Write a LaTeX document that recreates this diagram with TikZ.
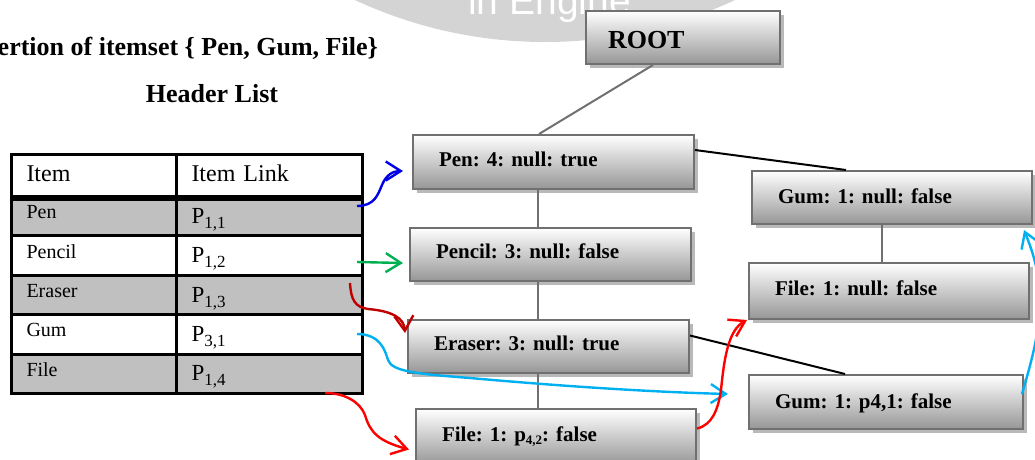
\documentclass[tikz,border=0pt]{standalone}
\usepackage{fontspec}
\setmainfont{Liberation Serif}
\newfontfamily\wmsans{Liberation Sans}
\usetikzlibrary{arrows.meta}
\definecolor{boxline}{RGB}{112,112,112}
\definecolor{boxbot}{RGB}{150,150,150}
\definecolor{cellgray}{RGB}{192,192,192}
\definecolor{wmgray}{RGB}{212,212,212}
\definecolor{cyanA}{RGB}{0,176,240}
\definecolor{darkredA}{RGB}{192,0,0}
\definecolor{redA}{RGB}{255,0,0}
\definecolor{blueA}{RGB}{0,0,230}
\definecolor{greenA}{RGB}{0,176,80}
\newcommand\fNode{\fontsize{21}{25}\selectfont\bfseries\frenchspacing}
\newcommand\fRoot{\fontsize{26}{30}\selectfont\bfseries}
\newcommand\fTitle{\fontsize{26}{30}\selectfont\bfseries\frenchspacing}
\newcommand\fHead{\fontsize{24}{28}\selectfont}
\newcommand\fCell{\fontsize{20}{24}\selectfont}
\newcommand\fPP{\fontsize{23}{26}\selectfont}
\newcommand\fWm{\fontsize{39}{44}\selectfont\wmsans}
\newcommand\Psub[1]{P\raisebox{-5pt}{\fontsize{17}{17}\selectfont #1}}
\tikzset{
  fpbox/.style={draw=boxline, line width=2pt, top color=white, bottom color=boxbot,
    anchor=north west, inner xsep=26pt, inner ysep=0pt, align=left,
    text height=15pt, text depth=7pt, font=\fNode,
    preaction={fill=gray!55, draw=none, transform canvas={shift={(4pt,-4pt)}}}},
  cellbox/.style={draw=black, line width=3pt, anchor=north west, inner xsep=15pt,
    inner ysep=0pt, align=left, minimum height=39.4pt},
  c1/.style={cellbox, minimum width=165pt, text width=135pt, font=\fCell, text height=13pt, text depth=8pt},
  c2/.style={cellbox, minimum width=186pt, text width=156pt, font=\fPP, text height=15pt, text depth=1pt},
  treeline/.style={draw=boxline, line width=2pt},
  blackline/.style={draw=black, line width=2pt},
  barbarrow/.style={line width=2.4pt, -{Straight Barb[length=15pt,width=19pt]}},
}
\begin{document}
\begin{tikzpicture}[x=1pt,y=-1pt]
\useasboundingbox (0,0) rectangle (1035,459);
\clip (0,0) rectangle (1035,459);
% watermark
\fill[wmgray] (545,-408) circle[radius=450pt];
\node[anchor=base west, inner sep=0, text=white, font=\fWm] (wm) at (468,14) {in Engine};
% titles
\node[anchor=base east, inner sep=0, font=\fTitle] (title) at (378,55) {Insertion of itemset \{ Pen, Gum, File\}};
\node[anchor=base, inner sep=0, font=\fTitle] (hdr) at (212,102) {Header List};
% table
\node[c1, minimum height=42pt, font=\fHead, text height=16pt, text depth=4pt] (hItem) at (10,153) {Item};
\node[c2, minimum height=42pt, font=\fHead, text height=16pt, text depth=4pt] (hLink) at (175,153) {Item Link};
\node[c1, fill=cellgray] (i1) at (10,195) {Pen};
\node[c2, fill=cellgray] (l1) at (175,195) {\Psub{1,1}};
\node[c1] (i2) at (10,234.4) {Pencil};
\node[c2] (l2) at (175,234.4) {\Psub{1,2}};
\node[c1, fill=cellgray] (i3) at (10,273.8) {Eraser};
\node[c2, fill=cellgray] (l3) at (175,273.8) {\Psub{1,3}};
\node[c1] (i4) at (10,313.2) {Gum};
\node[c2] (l4) at (175,313.2) {\Psub{3,1}};
\node[c1, fill=cellgray] (i5) at (10,352.6) {File};
\node[c2, fill=cellgray] (l5) at (175,352.6) {\Psub{1,4}};
\draw[line width=5pt] (hItem.south west) -- (hLink.south east);
% tree boxes
\node[fpbox, minimum width=194pt, minimum height=53pt, inner xsep=22pt, text width=150pt,
      font=\fRoot, text height=21pt, text depth=0pt] (root) at (585,10) {ROOT};
\node[fpbox, minimum width=281pt, minimum height=54pt, text width=229pt] (pen) at (412,134) {Pen: 4: null: true};
\node[fpbox, minimum width=281pt, minimum height=53pt, text width=229pt] (pencil) at (409,227) {Pencil: 3: null: false};
\node[fpbox, minimum width=281pt, minimum height=53pt, text width=229pt] (eraser) at (407,319) {Eraser: 3: null: true};
\node[fpbox, minimum width=280pt, minimum height=56pt, text width=228pt, text height=17pt, text depth=9pt] (file) at (415,408)
  {File: 1: p\raisebox{-3pt}{\fontsize{13}{13}\selectfont 4,2}: false};
\node[fpbox, minimum width=280pt, minimum height=53pt, text width=228pt, text height=15pt, text depth=4pt] (gum1) at (751,170) {Gum: 1: null: false};
\node[fpbox, minimum width=280pt, minimum height=56pt, text width=228pt] (filer) at (748,262) {File: 1: null: false};
\node[fpbox, minimum width=274pt, minimum height=54pt, text width=222pt, text height=15pt, text depth=3pt] (gum2) at (748,374) {Gum: 1: p4,1: false};
% tree connectors
\coordinate (spine) at (538,0);
\coordinate (spineR) at (882,0);
\draw[treeline] ([xshift=-30pt]root.south) -- ([xshift=-14.5pt]pen.north);
\draw[treeline] (pen.south -| spine) -- (pencil.north -| spine);
\draw[treeline] (pencil.south -| spine) -- (eraser.north -| spine);
\draw[treeline] (eraser.south -| spine) -- (file.north -| spine);
\draw[treeline] (gum1.south -| spineR) -- (filer.north -| spineR);
\draw[blackline] ([yshift=12pt]pen.east) -- ([xshift=-46pt]gum1.north);
\draw[blackline] ([yshift=11pt]eraser.east) -- ([xshift=-41pt]gum2.north);
% header-list links
\coordinate (bS) at (357,206);
\coordinate (gS) at (357,262);
\coordinate (dS) at (350,283);
\coordinate (cS) at (357,334);
\coordinate (rS) at (325,393);
\draw[barbarrow, blueA] (bS) .. controls (375,206) and (378,194) .. (382,185)
  .. controls (386,175) and (393,171) .. ([shift={(-9pt,-9pt)}]pen.west);
\draw[barbarrow, greenA] (gS) -- ([shift={(-6pt,-8.5pt)}]pencil.west);
\draw[barbarrow, darkredA] (dS) .. controls (351,300) and (355,307) .. (368,309)
  .. controls (392,311) and (404,318) .. ([shift={(-2pt,-14pt)}]eraser.north west);
\draw[barbarrow, cyanA] (cS) .. controls (380,334) and (385,350) .. (388,360)
  .. controls (392,372) and (420,374) .. (470,378)
  .. controls (560,386) and (650,392) .. ([shift={(-20pt,8pt)}]gum2.west);
\draw[barbarrow, redA] (rS) .. controls (345,393) and (360,402) .. (365,415)
  .. controls (370,432) and (378,441) .. ([shift={(-6pt,-12.5pt)}]file.west);
\draw[barbarrow, redA] ([yshift=8.5pt]file.east) .. controls (712,425) and (718,410) .. (721,390)
  .. controls (724,360) and (728,330) .. ([xshift=-1pt]filer.south west);
\draw[barbarrow, cyanA] ([shift={(-2pt,8pt)}]gum2.east) .. controls (1032,360) and (1040,330) .. (1040,300)
  .. controls (1040,270) and (1030,245) .. ([shift={(-9pt,-5pt)}]gum1.south east);
\end{tikzpicture}
\end{document}
